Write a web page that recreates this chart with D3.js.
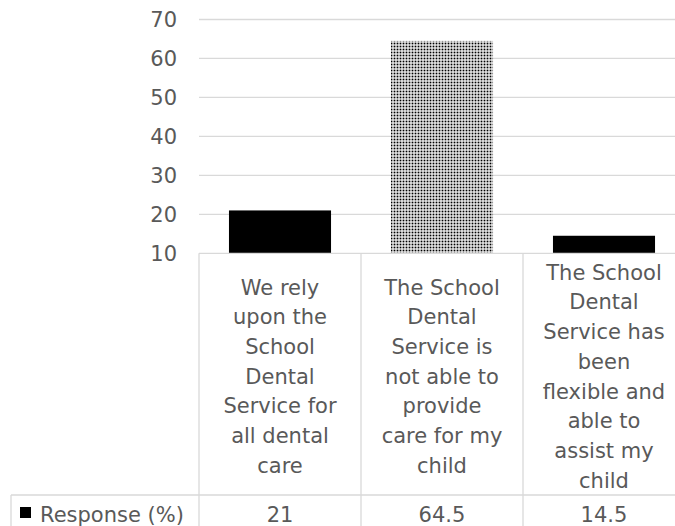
<!DOCTYPE html>
<html>
<head>
<meta charset="utf-8">
<script src="https://cdn.jsdelivr.net/npm/d3@7"></script>
<style>
  body { margin: 0; background: #fff; overflow: hidden; }
  text { font-family: "DejaVu Sans", sans-serif; fill: #595959; }
</style>
</head>
<body>
<div id="chart"></div>
<script>
// data
const categories = ["c1", "c2", "c3"];
const labelLines = [
  ["We rely", "upon the", "School", "Dental", "Service for", "all dental", "care"],
  ["The School", "Dental", "Service is", "not able to", "provide", "care for my", "child"],
  ["The School", "Dental", "Service has", "been", "flexible and", "able to", "assist my", "child"]
];
const values = [21, 64.5, 14.5];
const valueLabels = ["21", "64.5", "14.5"];
const seriesName = "Response (%)";
const yTicks = [10, 20, 30, 40, 50, 60, 70];

const width = 675, height = 526;
const plotLeft = 199, plotRight = 685;
const plotTop = 19.5, plotBottom = 253.3;
const rowSplit = 495;   // bottom of category row / top of value row
const tableBottom = 545;
const legendLeft = 11;
const fontSize = 21;
const lineH = 29.7;
const gridColor = "#d9d9d9";

const svg = d3.select("#chart")
    .append("svg")
    .attr("width", width)
    .attr("height", height);

// dotted fill for the middle bar
const defs = svg.append("defs");
const pat = defs.append("pattern")
    .attr("id", "dots")
    .attr("patternUnits", "userSpaceOnUse")
    .attr("width", 3)
    .attr("height", 3);
pat.append("rect").attr("width", 3).attr("height", 3).attr("fill", "#fff");
pat.append("rect").attr("x", 0.6).attr("y", 0.6).attr("width", 1.8).attr("height", 1.8).attr("fill", "#000");

const y = d3.scaleLinear()
    .domain([10, 70])
    .range([plotBottom, plotTop]);

const x = d3.scaleBand()
    .domain(categories)
    .range([plotLeft, plotRight])
    .paddingInner(0.37)
    .paddingOuter(0.185);

const xCol = d3.scaleBand()
    .domain(categories)
    .range([plotLeft, plotRight]);

// gridlines
svg.append("g")
    .selectAll("line")
    .data(yTicks.slice(1))
    .enter().append("line")
    .attr("x1", plotLeft)
    .attr("x2", plotRight)
    .attr("y1", d => y(d))
    .attr("y2", d => y(d))
    .attr("stroke", gridColor)
    .attr("stroke-width", 1.3);

// y tick labels
svg.append("g")
    .selectAll("text")
    .data(yTicks)
    .enter().append("text")
    .attr("x", 177)
    .attr("y", d => y(d))
    .attr("dy", "0.36em")
    .attr("text-anchor", "end")
    .attr("font-size", fontSize)
    .text(d => d);

// bars
svg.append("g")
    .selectAll("rect")
    .data(values)
    .enter().append("rect")
    .attr("x", (d, i) => x(categories[i]))
    .attr("width", x.bandwidth())
    .attr("y", d => y(d))
    .attr("height", d => y(10) - y(d))
    .attr("fill", (d, i) => i === 1 ? "url(#dots)" : "#000");

// data table borders
const table = svg.append("g")
    .attr("stroke", gridColor)
    .attr("stroke-width", 1.3)
    .attr("fill", "none");

table.append("line")
    .attr("x1", plotLeft).attr("x2", plotRight)
    .attr("y1", plotBottom).attr("y2", plotBottom);
table.append("line")
    .attr("x1", legendLeft).attr("x2", plotRight)
    .attr("y1", rowSplit).attr("y2", rowSplit);
table.append("line")
    .attr("x1", legendLeft).attr("x2", legendLeft)
    .attr("y1", rowSplit).attr("y2", tableBottom);
table.selectAll(".col")
    .data(categories.concat(["end"]))
    .enter().append("line")
    .attr("class", "col")
    .attr("x1", (d, i) => plotLeft + i * xCol.step())
    .attr("x2", (d, i) => plotLeft + i * xCol.step())
    .attr("y1", plotBottom)
    .attr("y2", tableBottom);

// category labels, centred in their cells
const midRow = (plotBottom + rowSplit) / 2 + 2;
svg.append("g")
    .selectAll("text")
    .data(labelLines)
    .enter().append("text")
    .attr("text-anchor", "middle")
    .attr("font-size", fontSize)
    .each(function(lines, i) {
        const cx = xCol(categories[i]) + xCol.bandwidth() / 2;
        const y0 = midRow - (lines.length - 1) * lineH / 2;
        d3.select(this).selectAll("tspan")
            .data(lines)
            .enter().append("tspan")
            .attr("x", cx)
            .attr("y", (l, j) => y0 + j * lineH)
            .attr("dy", "0.36em")
            .text(l => l);
    });

// value row (cut by the bottom edge, as in the reference)
const valueY = 514;
svg.append("g")
    .selectAll("text")
    .data(valueLabels)
    .enter().append("text")
    .attr("x", (d, i) => xCol(categories[i]) + xCol.bandwidth() / 2)
    .attr("y", valueY)
    .attr("dy", "0.36em")
    .attr("text-anchor", "middle")
    .attr("font-size", fontSize)
    .text(d => d);

// legend key + series name
svg.append("rect")
    .attr("x", 20)
    .attr("y", 507)
    .attr("width", 11)
    .attr("height", 11)
    .attr("fill", "#000");
svg.append("text")
    .attr("x", 40)
    .attr("y", valueY)
    .attr("dy", "0.36em")
    .attr("font-size", fontSize)
    .text(seriesName);
</script>
</body>
</html>
